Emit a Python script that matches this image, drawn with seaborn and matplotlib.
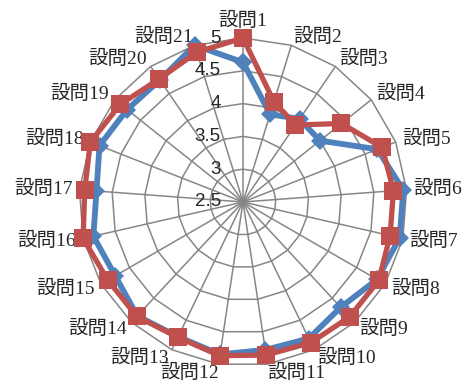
import numpy as np
import pandas as pd
import matplotlib
matplotlib.use("Agg")
import matplotlib.pyplot as plt
import seaborn as sns

categories = [f"設問{i}" for i in range(1, 22)]
series1 = [4.63, 3.9, 4.03, 4.0, 4.7, 4.95, 4.95, 4.86, 4.69, 4.81, 4.78,
           4.85, 4.78, 4.87, 4.75, 4.84, 4.74, 4.85, 4.76, 4.75, 5.0]
series2 = [5.0, 4.1, 3.92, 4.42, 4.78, 4.8, 4.8, 4.89, 4.89, 4.88, 4.86,
           4.87, 4.79, 4.88, 4.88, 5.0, 4.92, 5.0, 4.89, 4.77, 4.89]
r_ticks = [2.5, 3, 3.5, 4, 4.5, 5]
r_tick_labels = ["2.5", "3", "3.5", "4", "4.5", "5"]

sns.set_style("white")
plt.rcParams['font.family'] = ['Liberation Serif', 'Noto Sans CJK JP', 'DejaVu Sans']

n = len(categories)
theta = np.linspace(0, 2 * np.pi, n, endpoint=False)
theta_closed = np.append(theta, 2 * np.pi)

fig = plt.figure(figsize=(4.68, 3.87), dpi=100)
ax = fig.add_axes([0.1688, 0.0543, 0.7009, 0.8475], projection="polar")
ax.set_theta_zero_location("N")
ax.set_theta_direction(-1)
ax.set_ylim(2.5, 5)
ax.spines["polar"].set_visible(False)

grid_color = "#868686"
ax.yaxis.grid(False)
for rv in r_ticks[1:]:
    ax.plot(theta_closed, [rv] * (n + 1), color=grid_color, lw=1.1, zorder=1)
ax.set_yticks(r_ticks)
ax.set_yticklabels([])
ax.set_xticks(theta)
ax.set_xticklabels([])
ax.xaxis.grid(True, color=grid_color, lw=1.1)

# category labels placed around the outer ring
pad = 5
for t, lab in zip(theta, categories):
    s, c = np.sin(t), np.cos(t)
    if abs(s) < 0.2:
        ha = "center" if abs(s) < 0.05 else ("left" if s > 0 else "right")
        if c > 0:
            va, dx, dy = "bottom", 0, 6
        else:
            va, dx, dy = "top", 0, 0
    else:
        ha = "left" if s > 0 else "right"
        va = "center"
        dx, dy = pad * s, pad * c + 1.5 * c
    ax.annotate(lab, xy=(t, 5), xytext=(dx, dy), textcoords="offset points",
                ha=ha, va=va, fontsize=14, annotation_clip=False)

for rv, lab in zip(r_ticks, r_tick_labels):
    ax.annotate(lab, xy=(0, rv), xytext=(-16, 0), textcoords="offset points",
                ha="right", va="center", fontsize=13.5,
                family=["Liberation Sans", "DejaVu Sans"], zorder=5)

df1 = pd.DataFrame({"theta": theta_closed, "value": series1 + series1[:1]})
df2 = pd.DataFrame({"theta": theta_closed, "value": series2 + series2[:1]})

sns.lineplot(data=df1, x="theta", y="value", ax=ax, color="#4F81BD", lw=4.2,
             marker="D", markersize=9, markeredgewidth=0, sort=False, zorder=3)
sns.lineplot(data=df2, x="theta", y="value", ax=ax, color="#C0504D", lw=3.8,
             marker="s", markersize=12.5, markeredgewidth=0, sort=False, zorder=4)
ax.set_xlabel("")
ax.set_ylabel("")
for ln in ax.lines:
    ln.set_clip_on(False)

fig.savefig("out.png", dpi=100)
